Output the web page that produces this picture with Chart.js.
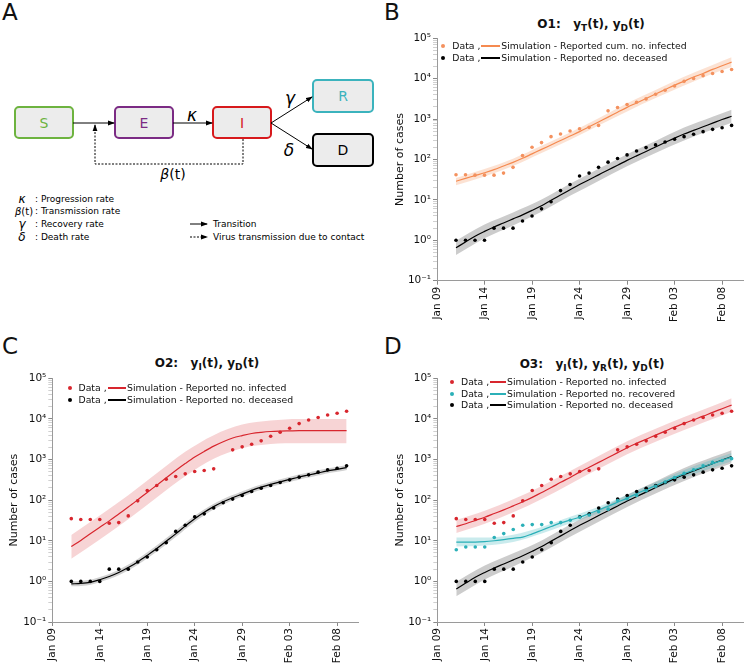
<!DOCTYPE html>
<html>
<head>
<meta charset="utf-8">
<script src="https://cdn.jsdelivr.net/npm/chart.js@4.4.0/dist/chart.umd.min.js"></script>
<style>
  body { margin: 0; background: #fff; font-family: "DejaVu Sans", sans-serif; color: #111; }
  #page { position: relative; width: 747px; height: 663px; overflow: hidden; }
  canvas { position: absolute; }
  .letter { position: absolute; font-size: 23px; line-height: 1; }
  .title { position: absolute; font-weight: bold; font-size: 12px; line-height: 1; transform: translateX(-50%); white-space: nowrap; }
  .title sub { font-size: 9px; }
  .leg { position: absolute; font-size: 9.3px; line-height: 1; white-space: nowrap; }
  .dot { position: absolute; width: 4px; height: 4px; border-radius: 50%; }
  .ln { position: absolute; height: 2px; }
</style>
</head>
<body>
<div id="page">
  <div class="letter" style="left:2px;top:1px">A</div>
  <div class="letter" style="left:384px;top:1px">B</div>
  <div class="letter" style="left:2px;top:335px">C</div>
  <div class="letter" style="left:384px;top:335px">D</div>

  <svg width="380" height="250" style="position:absolute;left:0;top:0" font-family="DejaVu Sans">
    <defs>
      <marker id="ah" markerWidth="7" markerHeight="6" refX="6" refY="3" orient="auto" markerUnits="userSpaceOnUse">
        <path d="M0,0.6 L7,3 L0,5.4 z" fill="#000"/>
      </marker>
    </defs>
    <rect x="15" y="107" width="58" height="31" rx="4" fill="#ececec" stroke="#6db33f" stroke-width="2"/>
    <rect x="115" y="107" width="58" height="31" rx="4" fill="#ececec" stroke="#7b2b84" stroke-width="2"/>
    <rect x="213" y="107" width="58" height="31" rx="4" fill="#ececec" stroke="#d7191c" stroke-width="2"/>
    <rect x="313" y="80" width="60" height="32" rx="4" fill="#ececec" stroke="#3bb3bd" stroke-width="2"/>
    <rect x="313" y="134" width="60" height="32" rx="4" fill="#ececec" stroke="#000" stroke-width="2"/>
    <g font-size="14" text-anchor="middle" dominant-baseline="central">
      <text x="44" y="123" fill="#6db33f">S</text>
      <text x="144" y="123" fill="#7b2b84">E</text>
      <text x="242" y="123" fill="#d7191c">I</text>
      <text x="343" y="96" fill="#3bb3bd">R</text>
      <text x="343" y="150" fill="#000">D</text>
    </g>
    <g stroke="#000" stroke-width="1">
      <line x1="73" y1="123" x2="114" y2="123" marker-end="url(#ah)"/>
      <line x1="173" y1="123" x2="212" y2="123" marker-end="url(#ah)"/>
      <line x1="271" y1="123" x2="312" y2="97" marker-end="url(#ah)"/>
      <line x1="271" y1="123" x2="312" y2="149" marker-end="url(#ah)"/>
      <polyline points="243,139 243,164 95,164 95,125" fill="none" stroke-dasharray="2,1.5" marker-end="url(#ah)"/>
      <line x1="190" y1="224" x2="207" y2="224" marker-end="url(#ah)"/>
      <line x1="190" y1="237" x2="207" y2="237" stroke-dasharray="2,1.5" marker-end="url(#ah)"/>
    </g>
    <g font-style="italic" text-anchor="middle" dominant-baseline="central">
      <text x="192" y="115" font-size="17">κ</text>
      <text x="290" y="98" font-size="17">γ</text>
      <text x="289" y="150" font-size="17">δ</text>
    </g>
    <text x="173" y="174" font-size="14" text-anchor="middle" dominant-baseline="central"><tspan font-style="italic">β</tspan>(t)</text>
    <g font-size="9" dominant-baseline="central">
      <text x="22" y="199" font-style="italic" font-size="12" text-anchor="middle">κ</text>
      <text x="35" y="199">: Progression rate</text>
      <text x="24" y="211" font-size="10" text-anchor="middle"><tspan font-style="italic">β</tspan>(t)</text>
      <text x="35" y="211">: Transmission rate</text>
      <text x="22" y="224" font-style="italic" font-size="12" text-anchor="middle">γ</text>
      <text x="35" y="224">: Recovery rate</text>
      <text x="22" y="237" font-style="italic" font-size="12" text-anchor="middle">δ</text>
      <text x="35" y="237">: Death rate</text>
      <text x="213" y="224">Transition</text>
      <text x="213" y="237">Virus transmission due to contact</text>
    </g>
  </svg>

  <div class="title" style="left:591px;top:18px">O1:&nbsp;&nbsp; y<sub>T</sub>(t), y<sub>D</sub>(t)</div>
  <div class="title" style="left:207px;top:357px">O2:&nbsp;&nbsp; y<sub>I</sub>(t), y<sub>D</sub>(t)</div>
  <div class="title" style="left:592px;top:358px">O3:&nbsp;&nbsp; y<sub>I</sub>(t), y<sub>R</sub>(t), y<sub>D</sub>(t)</div>

  <canvas id="chartB" width="367" height="300" style="left:380px;top:30px"></canvas>
  <canvas id="chartC" width="362" height="293" style="left:0px;top:370px"></canvas>
  <canvas id="chartD" width="367" height="293" style="left:380px;top:370px"></canvas>
</div>

<script>
// dates of the daily observations
const dates = [
  '2020-01-11','2020-01-12','2020-01-13','2020-01-14','2020-01-15','2020-01-16','2020-01-17','2020-01-18',
  '2020-01-19','2020-01-20','2020-01-21','2020-01-22','2020-01-23','2020-01-24','2020-01-25','2020-01-26',
  '2020-01-27','2020-01-28','2020-01-29','2020-01-30','2020-01-31','2020-02-01','2020-02-02','2020-02-03',
  '2020-02-04','2020-02-05','2020-02-06','2020-02-07','2020-02-08','2020-02-09'
];
// dates where the confidence bands were read
const bandDates = ['2020-01-11','2020-01-14','2020-01-17','2020-01-20','2020-01-23','2020-01-26',
  '2020-01-29','2020-02-01','2020-02-04','2020-02-07','2020-02-09'];

const xTickLabels = ['Jan 09', 'Jan 14', 'Jan 19', 'Jan 24', 'Jan 29', 'Feb 03', 'Feb 08'];
const yTickLabels = ['10⁻¹', '10⁰', '10¹', '10²', '10³', '10⁴', '10⁵'];
const yMajor = [0.1, 1, 10, 100, 1000, 10000, 100000];

// data
const cumInfectedData = [42, 42, 41, 41, 41, 46, 64, 125, 201, 262, 368, 428, 507, 578, 624, 699,
  1600, 1940, 2300, 2620, 3160, 4120, 5170, 6610, 8600, 10100, 11900, 13500, 15100, 16900];
const infectedData = [35, 33.5, 33.5, 33.5, 27, 28, 41, 96, 173, 230, 328, 382, 444, 507, 537, 589,
  null, 1730, 2050, 2380, 2880, 3750, 4700, 5890, 7670, 9440, 10800, 12500, 13800, 15500];
const recoveredData = [6, 7, 7, 7, 12, 15, 19, 24, 25, 25, 28, 28, 32, 38, 43, 52,
  60, 98, 110, 130, 170, 220, 280, 360, 460, 560, 700, 850, 950, 1050];
const deceasedData = [1, 1, 1, 1, 2, 2, 2, 3, 4, 6, 9, 17, 24, 39, 46, 64,
  86, 106, 130, 163, 197, 230, 272, 316, 368, 420, 489, 557, 612, 699];

// simulations, panel B (O1)
const o1CumInfSim = [29, 34, 40, 47, 56, 69, 85, 107, 138, 178, 229, 295, 380, 490, 646, 851,
  1120, 1480, 1950, 2510, 3240, 4170, 5370, 6920, 8710, 11000, 13500, 17000, 20900, 25700];
const o1CumInfHi = [35, 58, 105, 219, 468, 1047, 2455, 5250, 11200, 21900, 33900];
const o1CumInfLo = [23, 38, 69, 145, 309, 692, 1550, 3310, 6760, 13200, 19500];
const deceasedSim = [0.65, 0.91, 1.26, 1.66, 2.14, 2.69, 3.39, 4.27, 5.5, 7.2, 9.8, 13.2, 17.8, 24, 31.6, 41.7,
  55, 72, 95, 123, 158, 204, 263, 339, 427, 525, 646, 794, 977, 1175];
const deceasedHi = [0.98, 2.45, 4.9, 10.2, 25, 59, 135, 288, 617, 1150, 1700];
const deceasedLo = [0.43, 1.12, 2.34, 5.1, 12.6, 29.5, 67.6, 145, 295, 550, 813];

// panel C (O2)
const o2InfSim = [7.2, 10.2, 14.8, 21.4, 30.9, 45.7, 67.6, 102, 155, 234, 355, 537, 794, 1150, 1585, 2140,
  2750, 3390, 3890, 4370, 4680, 4900, 5010, 5070, 5130, 5130, 5130, 5130, 5130, 5130];
const o2InfHi = [13.8, 41.7, 132, 457, 1550, 3980, 7240, 9120, 10000, 10000, 10000];
const o2InfLo = [3.6, 10.7, 33.9, 117, 389, 1050, 1900, 2400, 2510, 2510, 2510];
const o2DecSim = [0.87, 0.89, 0.95, 1.10, 1.32, 1.66, 2.19, 3.02, 4.37, 6.46, 9.77, 14.8, 22.9, 34.7, 50.1, 69.2,
  91.2, 115, 141, 174, 209, 245, 282, 324, 372, 417, 468, 525, 575, 631];

// panel D (O3)
const o3InfSim = [22.4, 26.3, 31.6, 38, 46.8, 57.5, 72.4, 91.2, 117, 155, 204, 275, 363, 490, 646, 851,
  1120, 1480, 1950, 2510, 3160, 3980, 5010, 6310, 7760, 9550, 11700, 14500, 17800, 21900];
const o3InfHi = [32.4, 55, 105, 224, 525, 1230, 2820, 5750, 11200, 20900, 32400];
const o3InfLo = [15.5, 26.3, 50.1, 107, 251, 589, 1350, 2750, 5370, 10000, 15100];
const o3RecSim = [9.3, 9.3, 9.3, 9.5, 10, 10.7, 11.5, 12.3, 14.8, 18.2, 22.4, 27.5, 32.4, 38, 46.8, 57.5,
  70.8, 89.1, 112, 145, 182, 229, 288, 363, 447, 550, 661, 794, 955, 1150];
const o3RecHi = [12, 12, 14.1, 21.9, 38.9, 69.2, 135, 275, 550, 1000, 1445];
const o3RecLo = [7.2, 7.6, 9.3, 15.1, 26.9, 47.9, 93.3, 191, 363, 631, 912];

const ORANGE = '#f58a50', RED = '#d8262e', CYAN = '#2bb0b8', BLACK = '#000';
const FONT = 'DejaVu Sans';

function dayOf(s) {
  return (Date.parse(s) - Date.parse('2020-01-09')) / 86400000;
}
function xy(ds, vals) {
  return vals.map((v, i) => ({ x: dayOf(ds[i]), y: v })).filter(p => p.y !== null);
}

function points(vals, color) {
  return { data: xy(dates, vals), showLine: false, pointRadius: 1.8, pointBackgroundColor: color,
    pointBorderWidth: 0, borderColor: color, order: 0 };
}
function simLine(vals, color) {
  return { data: xy(dates, vals), borderColor: color, borderWidth: 1.2, pointRadius: 0,
    cubicInterpolationMode: 'monotone', order: 1 };
}
function band(hi, lo, fillColor) {
  return [
    { data: xy(bandDates, hi), borderWidth: 0, pointRadius: 0, fill: '+1', backgroundColor: fillColor,
      cubicInterpolationMode: 'monotone', order: 2 },
    { data: xy(bandDates, lo), borderWidth: 0, pointRadius: 0, fill: false,
      cubicInterpolationMode: 'monotone', order: 2 }
  ];
}

const yTickValues = [];
yMajor.forEach((m, i) => {
  yTickValues.push(m);
  if (i < yMajor.length - 1) for (let k = 2; k <= 9; k++) yTickValues.push(m * k);
});

function makeChart(id, datasets, yWidth, xHeight, padTop, titlePad) {
  return new Chart(document.getElementById(id), {
    type: 'line',
    data: { datasets },
    options: {
      responsive: false,
      animation: false,
      layout: { padding: { top: padTop, right: 0, bottom: 0, left: 0 } },
      plugins: { legend: { display: false }, tooltip: { enabled: false } },
      scales: {
        x: {
          type: 'linear', min: 0, max: 32.2,
          afterBuildTicks: s => { s.ticks = xTickLabels.map((t, i) => ({ value: i * 5 })); },
          afterFit: s => { s.height = xHeight; },
          ticks: { autoSkip: false, minRotation: 90, maxRotation: 90, padding: 2, color: '#111',
            font: { family: FONT, size: 10.5 }, callback: v => xTickLabels[Math.round(v / 5)] },
          grid: { drawOnChartArea: false, tickLength: 4, tickColor: '#888' },
          border: { color: '#9a9a9a' }
        },
        y: {
          type: 'logarithmic', min: 0.1, max: 100000,
          afterBuildTicks: s => { s.ticks = yTickValues.map(v => ({ value: v })); },
          afterFit: s => { s.width = yWidth; },
          ticks: { autoSkip: false, padding: 2, color: '#111', font: { family: FONT, size: 10.5 },
            callback: v => { const k = yMajor.indexOf(v); return k >= 0 ? yTickLabels[k] : ''; } },
          grid: { drawOnChartArea: false, tickLength: 4,
            tickColor: c => (c.tick && yMajor.indexOf(c.tick.value) >= 0) ? '#888' : '#d0d0d0' },
          border: { color: '#9a9a9a' },
          title: { display: true, text: 'Number of cases', color: '#111', font: { family: FONT, size: 11 },
            padding: { top: titlePad, bottom: 0 } }
        }
      }
    }
  });
}

makeChart('chartB', [
  points(cumInfectedData, '#f4915e'),
  points(deceasedData, BLACK),
  simLine(o1CumInfSim, ORANGE),
  simLine(deceasedSim, BLACK),
  ...band(o1CumInfHi, o1CumInfLo, 'rgba(245,138,80,0.25)'),
  ...band(deceasedHi, deceasedLo, 'rgba(0,0,0,0.2)')
], 57, 49.3, 7.3, 13.4);

makeChart('chartC', [
  points(infectedData, RED),
  points(deceasedData, BLACK),
  simLine(o2InfSim, RED),
  simLine(o2DecSim, BLACK),
  { data: xy(dates, o2DecSim), borderColor: 'rgba(0,0,0,0.18)', borderWidth: 5, pointRadius: 0,
    cubicInterpolationMode: 'monotone', order: 2 },
  ...band(o2InfHi, o2InfLo, 'rgba(216,38,46,0.2)')
], 52.3, 41, 7.7, 7.4);

makeChart('chartD', [
  points(infectedData, RED),
  points(recoveredData, CYAN),
  points(deceasedData, BLACK),
  simLine(o3InfSim, RED),
  simLine(o3RecSim, CYAN),
  simLine(deceasedSim, BLACK),
  ...band(o3InfHi, o3InfLo, 'rgba(216,38,46,0.2)'),
  ...band(o3RecHi, o3RecLo, 'rgba(43,176,184,0.25)'),
  ...band(deceasedHi, deceasedLo, 'rgba(0,0,0,0.2)')
], 57.3, 41, 7.7, 13.4);

// legends
function legendRow(x, y, dotColor, lineColor, lineW, text) {
  const page = document.getElementById('page');
  const dot = document.createElement('div');
  dot.className = 'dot';
  dot.style.cssText = `left:${x - 2}px;top:${y - 2}px;background:${dotColor}`;
  const d = document.createElement('div');
  d.className = 'leg';
  d.style.cssText = `left:${x + 9}px;top:${y - 5}px`;
  d.textContent = 'Data ,';
  const ln = document.createElement('div');
  ln.className = 'ln';
  ln.style.cssText = `left:${x + 38}px;top:${Math.round(y - 1)}px;width:${lineW}px;background:${lineColor}`;
  const t = document.createElement('div');
  t.className = 'leg';
  t.style.cssText = `left:${x + 38 + lineW + 1}px;top:${y - 5}px`;
  t.textContent = text;
  page.append(dot, d, ln, t);
}
legendRow(443.3, 45.7, '#f4915e', ORANGE, 19, 'Simulation - Reported cum. no. infected');
legendRow(443.3, 58.3, BLACK, BLACK, 19, 'Simulation - Reported no. deceased');
legendRow(69.5, 388, RED, RED, 18.5, 'Simulation - Reported no. infected');
legendRow(69.5, 400, BLACK, BLACK, 18.5, 'Simulation - Reported no. deceased');
legendRow(452, 382.3, RED, RED, 16, 'Simulation - Reported no. infected');
legendRow(452, 393.8, CYAN, CYAN, 16, 'Simulation - Reported no. recovered');
legendRow(452, 405.3, BLACK, BLACK, 16, 'Simulation - Reported no. deceased');
</script>
</body>
</html>
